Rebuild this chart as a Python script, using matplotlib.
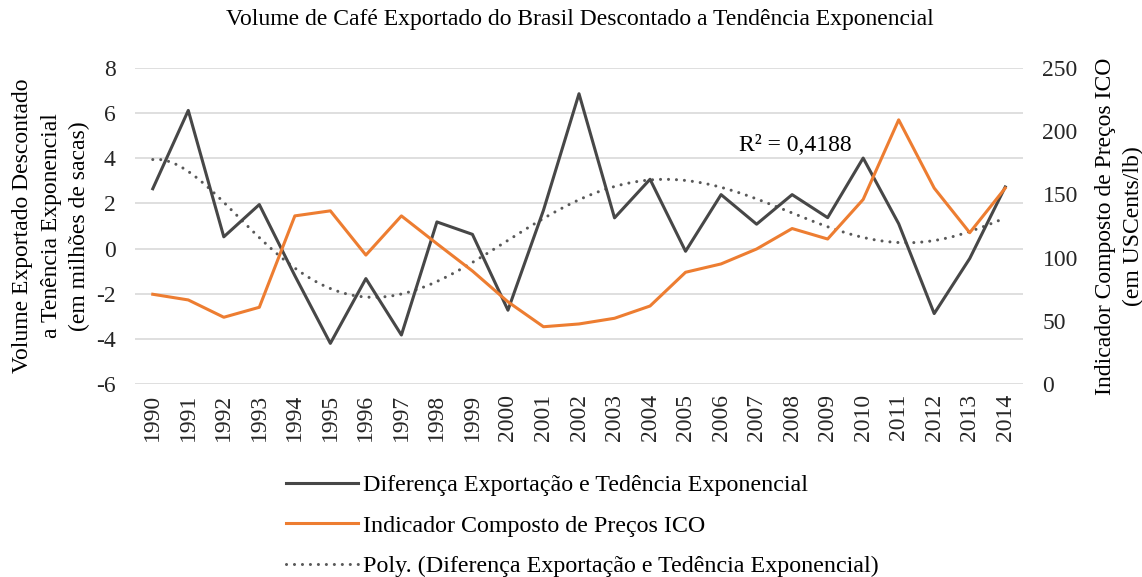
import matplotlib.pyplot as plt
import numpy as np

plt.rcParams['font.family'] = ['Liberation Serif', 'DejaVu Serif']
plt.rcParams['axes.unicode_minus'] = False

# dados
anos = [str(a) for a in range(1990, 2015)]
diferenca = [2.65, 6.12, 0.52, 1.95, -1.2, -4.2, -1.33, -3.83, 1.18, 0.63,
             -2.73, 1.7, 6.86, 1.36, 3.07, -0.12, 2.39, 1.08, 2.39, 1.37,
             4.01, 1.1, -2.88, -0.44, 2.73]
indicador_ico = [71, 66.5, 52.8, 60.7, 133, 137, 102, 133, 111, 89.4,
                 65, 45.3, 47.5, 52, 61.7, 88.4, 95, 106.8, 123, 114.7,
                 146, 209, 155, 119.7, 155]

x = np.arange(len(anos))

# tendência polinomial de grau 6 (como no Excel)
coef = np.polyfit(x + 1, diferenca, 6)
xs = np.linspace(0, len(anos) - 1, 300)
tend = np.polyval(coef, xs + 1)

fs = 17
fig = plt.figure(figsize=(11.42, 5.77), dpi=100)
ax = fig.add_axes([135 / 1142, 1 - 384 / 577, 888 / 1142, (384 - 68) / 577])
ax2 = ax.twinx()

ax.plot(x, diferenca, color='#474747', lw=2.2, zorder=3,
        label='Diferença Exportação e Tedência Exponencial')
ax2.plot(x, indicador_ico, color='#ED7D31', lw=2.2, zorder=3,
         label='Indicador Composto de Preços ICO')
ax.plot(xs, tend, color='#595959', lw=2.2, linestyle=(0, (0.01, 2.6)),
        dash_capstyle='round', zorder=2,
        label='Poly. (Diferença Exportação e Tedência Exponencial)')

ax.set_xlim(-0.5, len(anos) - 0.5)
ax.set_ylim(-6, 8)
ax.set_yticks(range(-6, 9, 2))
ax2.set_ylim(0, 250)
ax2.set_yticks(range(0, 251, 50))
ax.set_xticks(x)
ax.set_xticklabels(anos, rotation=90)

ax.grid(axis='y', color='#d9d9d9', lw=1.2)
ax.set_axisbelow(True)
for a in (ax, ax2):
    for s in a.spines.values():
        s.set_visible(False)
    a.tick_params(length=0, labelsize=fs, colors='#262626')
ax.tick_params(axis='y', pad=14)
ax2.tick_params(axis='y', pad=14)
ax.tick_params(axis='x', pad=7)

ax.set_ylabel('Volume Exportado Descontado\na Tenência Exponencial\n(em milhões de sacas)',
              fontsize=fs, linespacing=1.45)
ax.yaxis.set_label_coords((90 - 135) / 888, 0.5)
ax2.set_ylabel('Indicador Composto de Preços ICO\n(em USCents/lb)',
               fontsize=fs, linespacing=1.4)
ax2.yaxis.set_label_coords((1095 - 135) / 888, 0.5)

fig.text(580 / 1142, 1 - 20 / 577,
         'Volume de Café Exportado do Brasil Descontado a Tendência Exponencial',
         fontsize=fs, ha='center', va='center')

ax.text(16.5, 4.55, 'R² = 0,4188', fontsize=fs, ha='left', va='center')

h1, l1 = ax.get_legend_handles_labels()
h2, l2 = ax2.get_legend_handles_labels()
fig.legend([h1[0], h2[0], h1[1]], [l1[0], l2[0], l1[1]],
           loc='upper left', bbox_to_anchor=(264 / 1142, 1 - 453 / 577),
           frameon=False, fontsize=17.3, handlelength=3.0, handletextpad=0.2,
           labelspacing=0.77)

fig.savefig('out.png', dpi=100)
